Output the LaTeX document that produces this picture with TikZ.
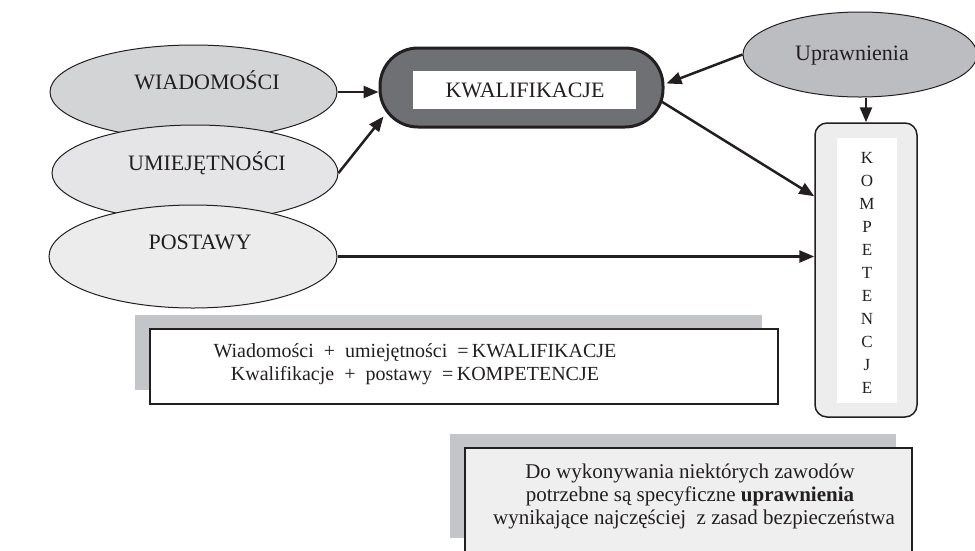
\documentclass[tikz,border=0pt]{standalone}
\usepackage{fontspec}
\setmainfont{Liberation Serif}
\usetikzlibrary{shapes.geometric,arrows.meta,calc}
\definecolor{ink}{HTML}{231F20}
\definecolor{cW}{HTML}{D3D4D6}
\definecolor{cU}{HTML}{E5E5E7}
\definecolor{cP}{HTML}{ECECEC}
\definecolor{cUp}{HTML}{BCBDC0}
\definecolor{pillgrey}{HTML}{6F7074}
\definecolor{kompfill}{HTML}{EDEDED}
\definecolor{shadowgrey}{HTML}{C4C5C8}
\definecolor{notefill}{HTML}{EFEFEF}
\begin{document}
\begin{tikzpicture}[x=1pt,y=-1pt,
  oval/.style={ellipse, draw=ink, line width=1pt, inner sep=0pt},
  conn/.style={line width=2.5pt, draw=ink, -{Triangle[length=15pt,width=12pt]}},
  lbl/.style={text=ink, inner sep=0pt, anchor=base, font=\fontsize{22}{26}\selectfont},
  eq/.style={text=ink, inner sep=0pt, anchor=base, font=\fontsize{20}{23}\selectfont},
  note/.style={text=ink, inner sep=0pt, anchor=base, font=\fontsize{21}{23}\selectfont},
  letter/.style={text=ink, inner sep=0pt, anchor=base, font=\fontsize{17}{20}\selectfont}]
\useasboundingbox (0,0) rectangle (975,550);

% ellipses on the left
\node[oval, fill=cW, minimum width=287pt, minimum height=94pt] (w) at (193.5,92) {};
\node[lbl] (wt) at (207,89.5) {WIADOMOŚCI};
\node[oval, fill=cU, minimum width=286pt, minimum height=96pt] (u) at (195,173) {};
\node[lbl] (ut) at (207,170) {UMIEJĘTNOŚCI};
\node[oval, fill=cP, minimum width=288pt, minimum height=103pt] (p) at (193,256.5) {};
\node[lbl] (pt) at (200,249) {POSTAWY};

% KWALIFIKACJE pill
\node[draw=ink, line width=3pt, fill=pillgrey, rounded corners=38pt,
      minimum width=283pt, minimum height=79pt, inner sep=0pt] (k) at (521.5,87.5) {};
\node[fill=white, minimum width=223pt, minimum height=38pt, inner sep=0pt] (kin) at (524.5,90) {};
\node[lbl] (kt) at (525,97) {KWALIFIKACJE};

% Uprawnienia
\node[oval, fill=cUp, minimum width=234pt, minimum height=85pt] (up) at (860,54.5) {};
\node[lbl] (upt) at (852,60) {Uprawnienia};

% KOMPETENCJE box
\node[draw=ink, line width=1.5pt, fill=kompfill, rounded corners=12pt,
      minimum width=102pt, minimum height=294pt, inner sep=0pt] (kb) at (866,270) {};
\node[fill=white, minimum width=60pt, minimum height=265pt, inner sep=0pt] (kw) at (867,270.5) {};
\foreach \L [count=\i] in {K,O,M,P,E,T,E,N,C,J,E}
  \node[letter] (kl\i) at (867,{163.6+23*(\i-1)}) {\L};

% connectors
\draw[conn] (w.east) -- (w.east -| k.west);
\draw[conn] (u.east) -- ($(k.south west)+(5,-12)$);
\draw[conn] (up.west) -- ($(k.east)+(2,-4)$);
\draw[conn] (up.south -| kb.north) -- (kb.north);
\draw[conn] ($(k.east)+(-3,14)$) -- ($(kb.north west)+(0,74)$);
\draw[conn] (p.east) -- (p.east -| kb.west);

% formula box
\fill[shadowgrey] (135,315) rectangle (762,390);
\draw[ink, line width=1.5pt, fill=white] (150,329) rectangle (778,404);
\node[eq] (ft1) at (415,357) {Wiadomości ~+~ umiejętności ~=\,KWALIFIKACJE};
\node[eq] (ft2) at (415,380) {Kwalifikacje ~+~ postawy ~=\,KOMPETENCJE};

% note box
\fill[shadowgrey] (450,434) rectangle (896,538);
\draw[ink, line width=1.5pt, fill=notefill] (465,448) rectangle (912,565);
\node[note] (bt1) at (690,478) {Do wykonywania niektórych zawodów};
\node[note] (bt2) at (690,501) {potrzebne są specyficzne \textbf{uprawnienia}};
\node[note] (bt3) at (694,524) {wynikające najczęściej~ z zasad bezpieczeństwa};
\end{tikzpicture}
\end{document}
